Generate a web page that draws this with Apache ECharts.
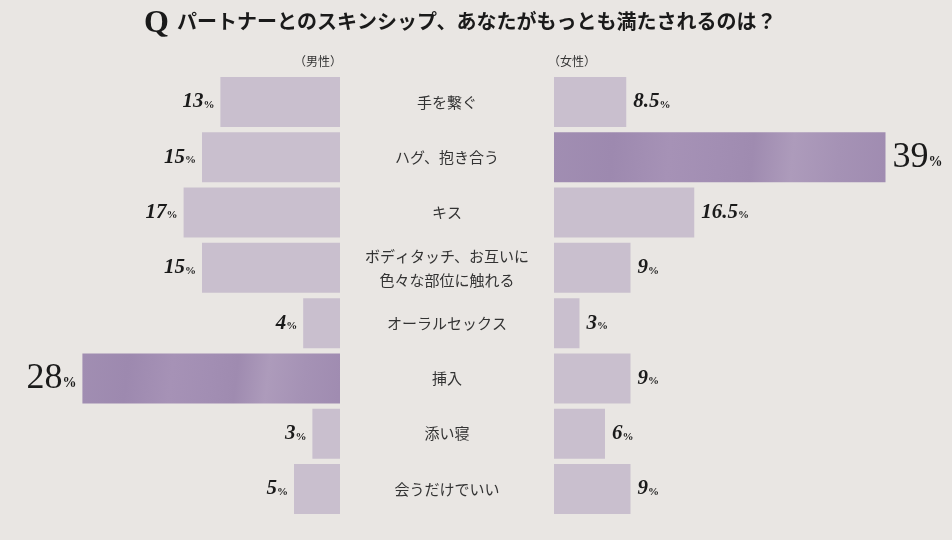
<!DOCTYPE html>
<html><head><meta charset="utf-8">
<script src="https://cdn.jsdelivr.net/npm/echarts@6/dist/echarts.min.js"></script>
<style>html,body{margin:0;padding:0;background:#e9e6e3;}#c{width:952px;height:540px;}</style>
</head><body><div id="c"></div>
<script>
var title = 'パートナーとのスキンシップ、あなたがもっとも満たされるのは？';
var categories = ['手を繋ぐ','ハグ、抱き合う','キス','ボディタッチ、お互いに\n色々な部位に触れる','オーラルセックス','挿入','添い寝','会うだけでいい'];
var male = [13, 15, 17, 15, 4, 28, 3, 5];
var female = [8.5, 39, 16.5, 9, 3, 9, 6, 9];
var maleLabel = '（男性）';
var femaleLabel = '（女性）';

var chart = echarts.init(document.getElementById('c'), null, {renderer:'canvas'});
var light = '#c9bfce';
function texture(){
  return new echarts.graphic.LinearGradient(0,0,1,0.6,[
    {offset:0,color:'#a18eb2'},{offset:0.18,color:'#9d89af'},{offset:0.35,color:'#a692b6'},
    {offset:0.5,color:'#a28eb3'},{offset:0.6,color:'#9f8bb0'},{offset:0.72,color:'#ad9bbb'},
    {offset:0.86,color:'#a592b5'},{offset:1,color:'#a08cb1'}]);
}
function build(arr){
  var mx = Math.max.apply(null, arr);
  return arr.map(function(v){
    var hi = v === mx;
    return {value:v, itemStyle:{color: hi ? texture() : light},
      label:{formatter: hi ? '{b|'+v+'}{bp|%}' : '{n|'+v+'}{p|%}'}};
  });
}
var rich = {
  n:{fontFamily:'Liberation Serif',fontStyle:'italic',fontWeight:'bold',fontSize:21,color:'#1a1a1a'},
  p:{fontFamily:'Liberation Serif',fontWeight:'bold',fontSize:11,color:'#1a1a1a',padding:[6,0,0,0]},
  b:{fontFamily:'Liberation Serif',fontWeight:'normal',fontSize:36,color:'#1a1a1a'},
  bp:{fontFamily:'Liberation Serif',fontWeight:'bold',fontSize:14,color:'#1a1a1a',padding:[10,0,0,0]}
};
var gridTop = 74.3, gridH = 442.4;
chart.setOption({
  backgroundColor:'#e9e6e3',
  animation:false,
  title:{text:'Q', left:139, top:3, textStyle:{fontFamily:'Liberation Serif',fontWeight:'bold',fontSize:32,color:'#1a1a1a'}},
  graphic:[
    {type:'text', left:177, top:11, style:{text:title, font:'bold 20px "Noto Sans CJK JP"', fill:'#1a1a1a'}},
    {type:'text', right:952-342, top:55, style:{text:maleLabel, font:'12px "Noto Sans CJK JP"', fill:'#333'}},
    {type:'text', left:548, top:55, style:{text:femaleLabel, font:'12px "Noto Sans CJK JP"', fill:'#333'}}
  ],
  grid:[
    {left:340-30*9.2, width:30*9.2, top:gridTop, height:gridH},
    {left:554, width:40*8.5, top:gridTop, height:gridH}
  ],
  xAxis:[
    {gridIndex:0, type:'value', min:0, max:30, inverse:true, show:false},
    {gridIndex:1, type:'value', min:0, max:40, show:false}
  ],
  yAxis:[
    {gridIndex:0, type:'category', data:categories, inverse:true, show:false},
    {gridIndex:1, type:'category', data:categories, inverse:true, position:'left',
      axisLine:{show:false}, axisTick:{show:false}, splitLine:{show:false},
      axisLabel:{align:'center', margin:107, fontFamily:'Noto Sans CJK JP', fontSize:15, color:'#333', lineHeight:24}}
  ],
  series:[
    {type:'bar', xAxisIndex:0, yAxisIndex:0, data:build(male), barWidth:50,
      label:{show:true, position:'left', distance:6, rich:rich}},
    {type:'bar', xAxisIndex:1, yAxisIndex:1, data:build(female), barWidth:50,
      label:{show:true, position:'right', distance:7, rich:rich}}
  ]
});
</script></body></html>
